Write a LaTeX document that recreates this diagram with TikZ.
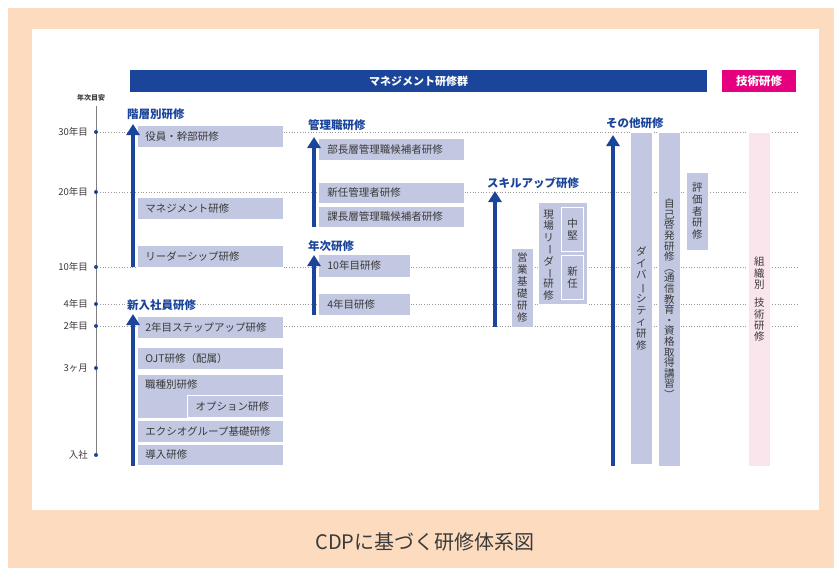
\documentclass[tikz,border=0pt]{standalone}
\usepackage{fontspec}
\setmainfont{Noto Sans CJK JP}
\usetikzlibrary{arrows.meta}
\definecolor{peach}{HTML}{FDDBBE}
\definecolor{navy}{HTML}{1B459B}
\definecolor{mag}{HTML}{E4007F}
\definecolor{lav}{HTML}{C3C8E2}
\definecolor{lpink}{HTML}{FBE5EC}
\definecolor{txt}{HTML}{3A3A3A}
\definecolor{dotc}{HTML}{9A9A9A}
\newcommand\bxf{\fontsize{10.5}{12}\selectfont}
\newcommand\vr[1]{\rotatebox[origin=c]{-90}{#1}}
\begin{document}
\begin{tikzpicture}[x=1pt,y=-1pt,
  base/.style={fill=lav, draw=white, line width=0.7pt, anchor=north west, inner sep=0pt, text=txt},
  hb/.style 2 args={base, minimum height=#2, text width=#1, align=left, inner xsep=8pt, inner ysep=0pt, font=\bxf},
  vb/.style 2 args={base, minimum width=#1, minimum height=#2, align=center},
  ttl/.style={anchor=west, font=\bfseries\fontsize{11.5}{13}\selectfont, text=navy, fill=white, inner sep=1pt},
  yl/.style={anchor=east, font=\fontsize{9.5}{10}\selectfont, text=txt, inner sep=0pt},
  gl/.style={dotc, dotted, line width=0.7pt},
  up/.style={navy, line width=4.5pt, -{Triangle[width=13pt,length=11pt]}},
]
\useasboundingbox (0,0) rectangle (834,568);
\fill[peach] (8,8) rectangle (834,568);
\fill[white] (32,29) rectangle (819,510);

% top bars
\node[fill=navy, minimum width=577pt, minimum height=22pt, anchor=north west, inner sep=0pt, text=white, font=\bfseries\fontsize{11}{12}\selectfont] (mgmtbar) at (130,70) {マネジメント研修群};
\node[fill=mag, minimum width=74pt, minimum height=22pt, anchor=north west, inner sep=0pt, text=white, font=\bfseries\fontsize{11.5}{12}\selectfont] (techbar) at (722,70) {技術研修};

% axis
\node[font=\bfseries\fontsize{7}{8}\selectfont, text=txt, inner sep=0pt] (axt) at (91,98) {年次目安};
\coordinate (axtop) at (96,106);
\coordinate (axbot) at (96,455);
\draw[gray, line width=0.8pt] (axtop) -- (axbot);
\foreach \yy/\lab/\nm in {132/30年目/y30, 192/20年目/y20, 267/10年目/y10, 304/4年目/y4, 326/2年目/y2, 368/3ヶ月/m3, 455/入社/ent}{
  \fill[navy] (96,\yy) circle (2pt);
  \node[yl] (\nm) at (88,\yy) {\lab};
}
% dotted grid lines
\foreach \yy/\nm in {132/a, 192/b, 267/c, 304/d, 326/e}{
  \coordinate (gl\nm s) at (100,\yy);
  \coordinate (gl\nm e) at (797,\yy);
  \draw[gl] (gl\nm s) -- (gl\nm e);
}

% ===== left column
\node[ttl] (t1) at (126,114) {階層別研修};
\node[hb={130pt}{22pt}] (yakuin) at (137,125) {役員・幹部研修};
\node[hb={130pt}{22pt}] (mgmt) at (137,197) {マネジメント研修};
\node[hb={130pt}{22pt}] (leader) at (137,245) {リーダーシップ研修};
\coordinate (a1b) at (133,267); \coordinate (a1t) at (133,124);
\draw[up] (a1b) -- (a1t);

\node[ttl] (t2) at (126,305) {新入社員研修};
\node[hb={130pt}{22pt}] (step2) at (137,316) {2年目ステップアップ研修};
\node[hb={130pt}{22pt}] (ojt) at (137,347) {OJT研修（配属）};
\node[base, minimum width=146pt, minimum height=44pt] (shokushu) at (137,374) {};
\node[anchor=west, font=\bxf, text=txt, inner sep=0pt] (shokushut) at (145,385) {職種別研修};
\node[hb={80pt}{22pt}, draw=white, line width=1.2pt] (option) at (187,395) {オプション研修};
\node[hb={130pt}{22pt}] (exeo) at (137,420) {エクシオグループ基礎研修};
\node[hb={130pt}{21pt}] (donyu) at (137,444) {導入研修};
\coordinate (a2b) at (133,466); \coordinate (a2t) at (133,314);
\draw[up] (a2b) -- (a2t);

% ===== middle column
\node[ttl] (t3) at (307,125) {管理職研修};
\node[hb={128pt}{22pt}, inner xsep=9pt] (bucho) at (318,138) {部長層管理職候補者研修};
\node[hb={128pt}{21pt}, inner xsep=9pt] (shinnin) at (318,182) {新任管理者研修};
\node[hb={128pt}{21pt}, inner xsep=9pt] (kacho) at (318,206) {課長層管理職候補者研修};
\coordinate (a3b) at (314,227); \coordinate (a3t) at (314,137);
\draw[up] (a3b) -- (a3t);

\node[ttl] (t4) at (307,246) {年次研修};
\node[hb={74pt}{23pt}, inner xsep=9pt] (y10b) at (318,254) {10年目研修};
\node[hb={74pt}{22pt}, inner xsep=9pt] (y4b) at (318,293) {4年目研修};
\coordinate (a4b) at (314,315); \coordinate (a4t) at (314,255);
\draw[up] (a4b) -- (a4t);

% ===== skill up
\node[ttl] (t5) at (486,183) {スキルアップ研修};
\coordinate (a5b) at (495,327); \coordinate (a5t) at (495,191);
\draw[up] (a5b) -- (a5t);
\node[vb={22pt}{79pt}, font=\fontsize{10.5}{12}\selectfont] (eigyo) at (511,248) {営\\業\\基\\礎\\研\\修};
\node[base, minimum width=49pt, minimum height=102pt] (genba) at (538,202) {};
\node[align=center, inner sep=0pt, text=txt, font=\fontsize{10.5}{11.3}\selectfont] (genbat) at (548.5,255) {現\\場\\リ\\\vr{ー}\\ダ\\\vr{ー}\\研\\修};
\node[vb={22pt}{44pt}, draw=white, line width=1.2pt, font=\fontsize{10.5}{12}\selectfont] (chuken) at (561,207) {中\\堅};
\node[vb={22pt}{44pt}, draw=white, line width=1.2pt, font=\fontsize{10.5}{12}\selectfont] (shin2) at (561,255) {新\\任};

% ===== others
\node[ttl] (t6) at (605,123) {その他研修};
\coordinate (a6b) at (613,466); \coordinate (a6t) at (613,135);
\draw[up] (a6b) -- (a6t);
\node[vb={22pt}{332pt}, font=\fontsize{10.5}{11.7}\selectfont] (divers) at (630,132) {ダ\\イ\\バ\\\vr{ー}\\シ\\テ\\ィ\\研\\修};
\node[vb={22pt}{334pt}, font=\fontsize{10.5}{10.6}\selectfont] (jiko) at (658,132) {自\\己\\啓\\発\\研\\修\\\vr{（}\\通\\信\\教\\育\\・\\資\\格\\取\\得\\講\\習\\\vr{）}};
\node[vb={22pt}{78pt}, font=\fontsize{10.5}{11.8}\selectfont] (hyoka) at (686,172) {評\\価\\者\\研\\修};
\node[vb={22pt}{334pt}, fill=lpink, font=\fontsize{10.5}{11.3}\selectfont] (soshiki) at (748,132) {組\\織\\別\\[7pt]技\\術\\研\\修};

% caption
\node[font=\fontsize{20}{22}\selectfont, text=txt, inner sep=0pt] (cap) at (425,542) {CDPに基づく研修体系図};
\end{tikzpicture}
\end{document}
